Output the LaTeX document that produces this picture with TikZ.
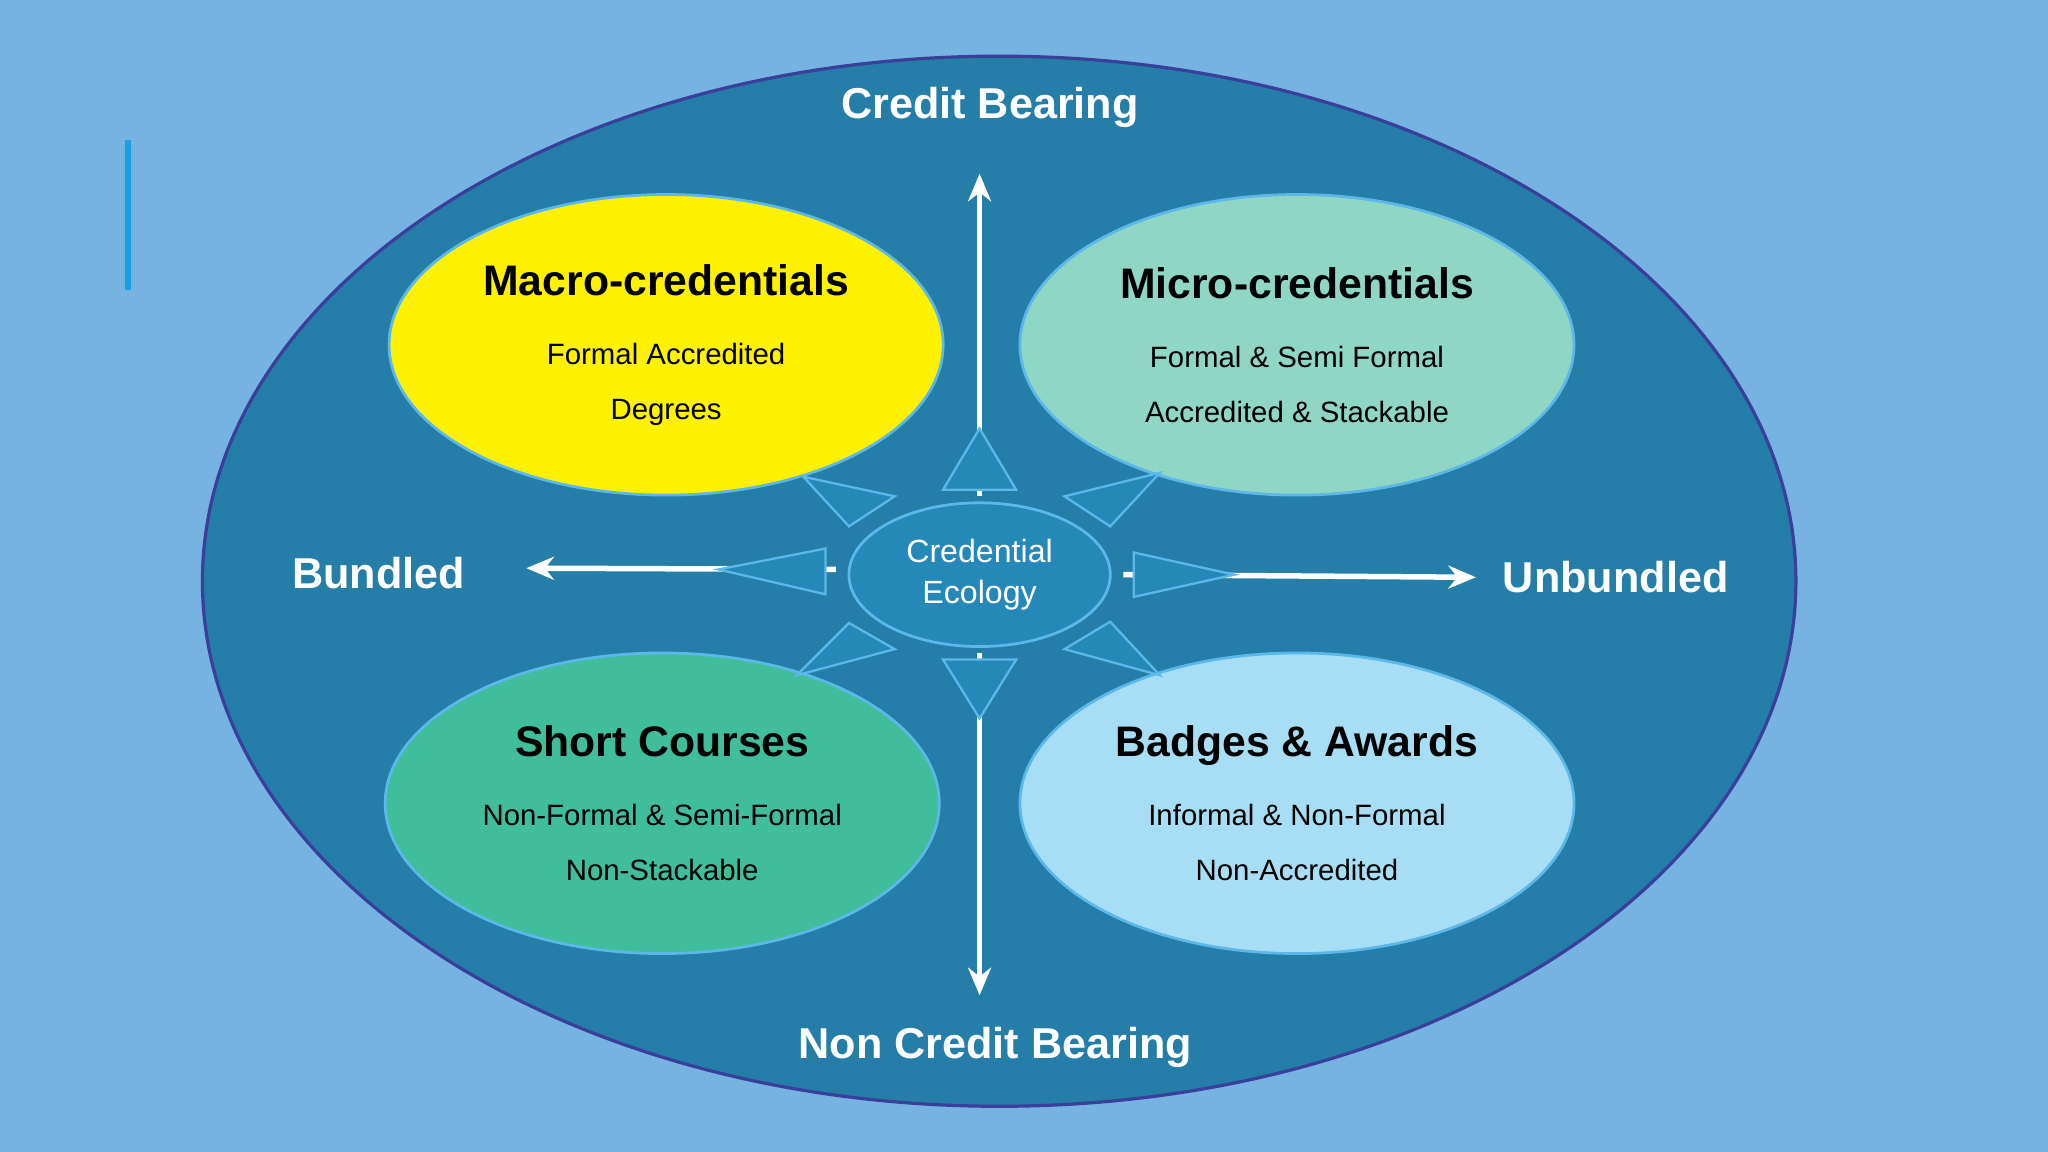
\documentclass[tikz,border=0pt]{standalone}
\usepackage{fontspec}
\setmainfont{Liberation Sans}
\usetikzlibrary{shapes.geometric,arrows.meta}
\definecolor{bg}{HTML}{77B3E0}
\definecolor{big}{HTML}{257EA8}
\definecolor{bigb}{HTML}{3A3F9A}
\definecolor{tri}{HTML}{2488B8}
\definecolor{trib}{HTML}{5BB8E8}
\definecolor{micro}{HTML}{8FD6C4}
\definecolor{short}{HTML}{40BE9C}
\definecolor{badge}{HTML}{A8DEF5}
\tikzset{
 px/.style={x=0.01cm,y=-0.01cm},
 quad/.style={ellipse,draw=trib,line width=0.6pt,minimum width=4.24cm,minimum height=2.3cm,align=center,inner sep=0pt},
 lbl/.style={text=white,font=\fontsize{9.4pt}{11pt}\selectfont\bfseries},
 tria/.style={fill=tri,draw=trib,line width=0.5pt},
 warr/.style={draw=white,line width=1.2pt,-{Stealth[length=6pt,width=5pt]}}
}
\newcommand{\myttl}{\fontsize{9.3pt}{11pt}\selectfont\bfseries}
\newcommand{\mysub}{\fontsize{6.4pt}{8.2pt}\selectfont}
\begin{document}
\begin{tikzpicture}[px]
\fill[bg] (0,0) rectangle (1568,882);
\useasboundingbox (0,0) rectangle (1568,882);
\draw[draw=bigb,fill=big,line width=0.7pt] (765,445) ellipse [x radius=610, y radius=402];
\draw[draw={rgb,255:red,26;green,160;blue,224},line width=1.5pt] (98,107) -- (98,222);
\node[quad,fill=yellow] (macro) at (510,264) {{\myttl Macro-credentials}\\[3pt]{\mysub Formal Accredited}\\{\mysub Degrees}};
\node[quad,fill=micro] (micro) at (993,264) {{\myttl Micro-credentials}\\[3pt]{\mysub Formal \& Semi Formal}\\{\mysub Accredited \& Stackable}};
\node[quad,fill=short] (short) at (507,615) {{\myttl Short Courses}\\[3pt]{\mysub Non-Formal \& Semi-Formal}\\{\mysub Non-Stackable}};
\node[quad,fill=badge] (badge) at (993,615) {{\myttl Badges \& Awards}\\[3pt]{\mysub Informal \& Non-Formal}\\{\mysub Non-Accredited}};
% arrows
\coordinate (cu) at (750,380); \coordinate (ct) at (750,133);
\coordinate (cd) at (750,500); \coordinate (cb) at (750,762);
\coordinate (cl) at (640,436); \coordinate (cL) at (403,435);
\coordinate (cr) at (860,440); \coordinate (cR) at (1130,442);
\draw[warr] (cu) -- (ct);
\draw[warr] (cd) -- (cb);
\draw[warr] (cl) -- (cL);
\draw[warr] (cr) -- (cR);
% triangles
\draw[tria] (750,328) -- (778,375) -- (722,375) -- cycle;
\draw[tria] (750,550) -- (778,505) -- (722,505) -- cycle;
\draw[tria] (550,436) -- (632,420) -- (632,455) -- cycle;
\draw[tria] (945,440) -- (868,423) -- (868,457) -- cycle;
\draw[tria] (615,365) -- (685,380) -- (650,403) -- cycle;
\draw[tria] (888,362) -- (815,380) -- (850,403) -- cycle;
\draw[tria] (610,517) -- (650,477) -- (685,497) -- cycle;
\draw[tria] (888,517) -- (815,497) -- (850,476) -- cycle;
\node[ellipse,fill=tri,draw=trib,line width=0.6pt,minimum width=2cm,minimum height=1.1cm,align=center,text=white,inner sep=0pt,font=\fontsize{7pt}{9pt}\selectfont] (eco) at (750,440) {Credential\\Ecology};
\node[lbl] (top) at (758,82) {Credit Bearing};
\node[lbl] (bot) at (762,802) {Non Credit Bearing};
\node[lbl] (lft) at (290,439) {Bundled};
\node[lbl] (rgt) at (1237,442) {Unbundled};
\end{tikzpicture}
\end{document}
